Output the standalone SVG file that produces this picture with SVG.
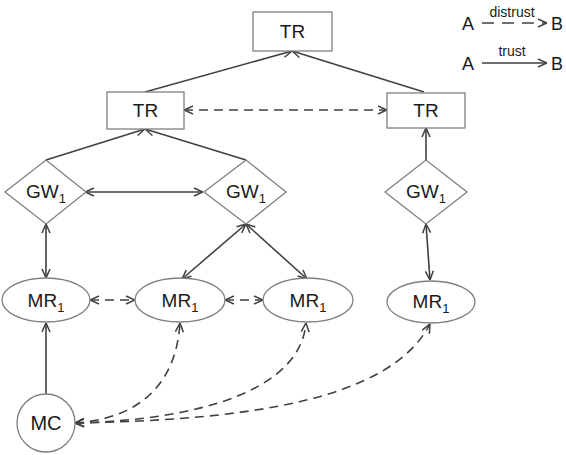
<svg xmlns="http://www.w3.org/2000/svg" width="566" height="455" viewBox="0 0 566 455">
<defs>
<marker id="ah" viewBox="0 0 10 10" refX="10" refY="5" markerUnits="userSpaceOnUse" markerWidth="10" markerHeight="10" orient="auto-start-reverse">
<path d="M1,1 L10,5 L1,9" fill="none" stroke="#404040" stroke-width="1.5"/>
</marker>
</defs>
<style>
.box{fill:#fff;stroke:#7f7f7f;stroke-width:1.3}
.lbl{font-family:"Liberation Sans",Arial,sans-serif;font-size:19px;fill:#1a1a1a;text-anchor:middle}
.sub{font-size:13px}
.c{fill:none;stroke:#404040;stroke-width:1.6}
.d{stroke-dasharray:9,6}
.e{marker-end:url(#ah)}
.b{marker-start:url(#ah);marker-end:url(#ah)}
.leg{font-family:"Liberation Sans",Arial,sans-serif;fill:#1a1a1a}
</style>
<g id="connectors">
<line class="c e" x1="145" y1="92" x2="292" y2="51"/>
<line class="c e" x1="424" y1="92" x2="292" y2="51"/>
<line class="c d b" x1="184" y1="110" x2="387" y2="110"/>
<line class="c e" x1="46" y1="160" x2="145" y2="129"/>
<line class="c e" x1="246" y1="160" x2="145" y2="129"/>
<line class="c e" x1="426" y1="160" x2="426" y2="128"/>
<line class="c b" x1="85" y1="192" x2="203" y2="192"/>
<line class="c b" x1="46" y1="224" x2="46" y2="278"/>
<line class="c b" x1="246" y1="224" x2="182" y2="279"/>
<line class="c b" x1="246" y1="224" x2="307" y2="279"/>
<line class="c b" x1="426" y1="224" x2="430" y2="280"/>
<line class="c d b" x1="90" y1="300" x2="135" y2="300"/>
<line class="c d b" x1="225" y1="300" x2="263" y2="300"/>
<line class="c e" x1="46" y1="394" x2="46" y2="323"/>
<path class="c d b" d="M75,423 C120,420 175,400 180,323"/>
<path class="c d b" d="M75,423 C200,420 300,390 306,323"/>
<path class="c d b" d="M75,423 C250,420 390,400 430,324"/>
</g>
<g id="tr-top"><rect class="box" x="253" y="12" width="79" height="39"/><text class="lbl" x="292.5" y="38">TR</text></g>
<g id="tr-left"><rect class="box" x="107" y="92" width="77" height="37"/><text class="lbl" x="145.5" y="117">TR</text></g>
<g id="tr-right"><rect class="box" x="387" y="93" width="78" height="35"/><text class="lbl" x="426" y="117">TR</text></g>
<g id="gw-left"><polygon class="box" points="5,192 46,160 86,192 46,224"/><text class="lbl" x="46" y="198">GW<tspan class="sub" dy="5">1</tspan></text></g>
<g id="gw-mid"><polygon class="box" points="204,192 246,160 286,192 246,224"/><text class="lbl" x="246" y="198">GW<tspan class="sub" dy="5">1</tspan></text></g>
<g id="gw-right"><polygon class="box" points="385,192 426,160 467,192 426,224"/><text class="lbl" x="426" y="198">GW<tspan class="sub" dy="5">1</tspan></text></g>
<g id="mr-1"><ellipse class="box" cx="46" cy="300" rx="44" ry="22"/><text class="lbl" x="46" y="307">MR<tspan class="sub" dy="5">1</tspan></text></g>
<g id="mr-2"><ellipse class="box" cx="180" cy="300" rx="45" ry="22"/><text class="lbl" x="180" y="307">MR<tspan class="sub" dy="5">1</tspan></text></g>
<g id="mr-3"><ellipse class="box" cx="308" cy="300" rx="45" ry="22"/><text class="lbl" x="308" y="307">MR<tspan class="sub" dy="5">1</tspan></text></g>
<g id="mr-4"><ellipse class="box" cx="431" cy="302" rx="44" ry="21"/><text class="lbl" x="431" y="308">MR<tspan class="sub" dy="5">1</tspan></text></g>
<g id="mc"><circle class="box" cx="46" cy="423" r="29"/><text class="lbl" x="46" y="430" style="font-size:20px">MC</text></g>
<g id="legend">
<text class="leg" x="462" y="30" font-size="18">A</text>
<line class="c" x1="482" y1="23" x2="547" y2="23" stroke-dasharray="12,8" marker-end="url(#ah)"/>
<text class="leg" x="512" y="17" font-size="14" text-anchor="middle">distrust</text>
<text class="leg" x="551" y="30" font-size="18">B</text>
<text class="leg" x="462" y="70" font-size="18">A</text>
<line class="c" x1="482" y1="63" x2="547" y2="63" marker-end="url(#ah)"/>
<text class="leg" x="512" y="56" font-size="14" text-anchor="middle">trust</text>
<text class="leg" x="551" y="70" font-size="18">B</text>
</g>
</svg>
